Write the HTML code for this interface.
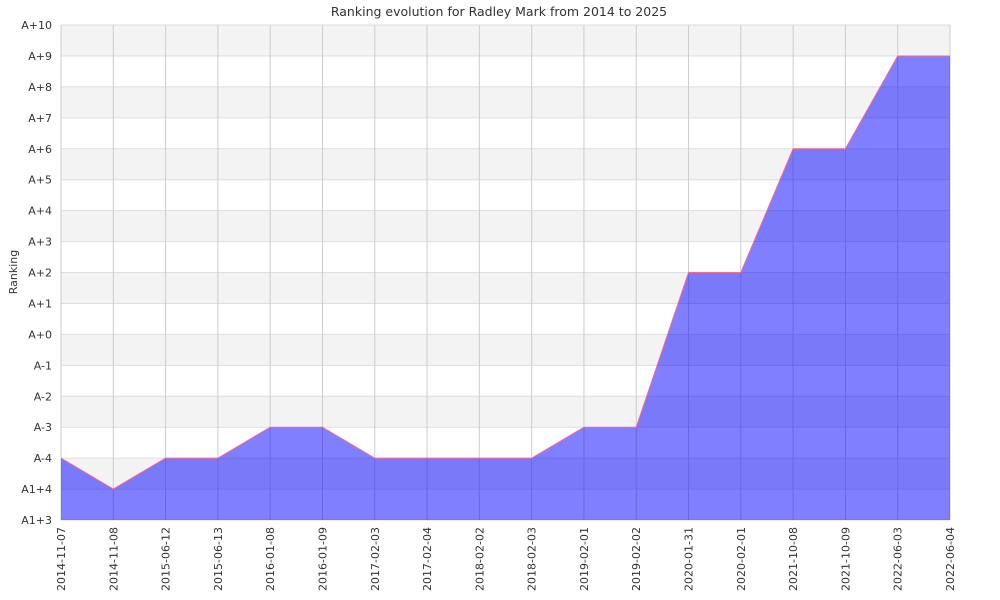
<!DOCTYPE html>
<html><head><meta charset="utf-8"><style>body{margin:0;background:#fff}svg{display:block;font-family:"DejaVu Sans","Liberation Sans",sans-serif}</style></head>
<body>
<svg width="1000" height="600" xmlns="http://www.w3.org/2000/svg">
<text x="499" y="16" text-anchor="middle" font-size="12.5" fill="#333">Ranking evolution for Radley Mark from 2014 to 2025</text>
<text transform="translate(17,272) rotate(-90)" text-anchor="middle" font-size="11" fill="#333">Ranking</text>
<g id="bands"></g>
<g id="grid"></g>
<g id="area"></g>
<g id="labels" font-size="11" fill="#333"></g>
</svg>
<script>
var ns="http://www.w3.org/2000/svg";
function el(p,t,a,txt){var e=document.createElementNS(ns,t);for(var k in a)e.setAttribute(k,a[k]);if(txt!=null)e.textContent=txt;document.getElementById(p).appendChild(e);return e;}
var L=61,R=950,T=25,B=520,rh=(B-T)/16,cw=(R-L)/17;
var yl=["A1+3","A1+4","A-4","A-3","A-2","A-1","A+0","A+1","A+2","A+3","A+4","A+5","A+6","A+7","A+8","A+9","A+10"];
for(var i=0;i<16;i++){el("bands","rect",{x:L,y:T+i*rh,width:R-L,height:rh,fill:i%2==0?"#f3f3f3":"#fff"});}
for(var i=0;i<=16;i++){var y=T+i*rh;el("grid","line",{x1:L,x2:R,y1:y,y2:y,stroke:"#ddd","stroke-width":1});
el("labels","text",{x:52,y:y+4,"text-anchor":"end"},yl[16-i]);}
var xl=["2014-11-07","2014-11-08","2015-06-12","2015-06-13","2016-01-08","2016-01-09","2017-02-03","2017-02-04","2018-02-02","2018-02-03","2019-02-01","2019-02-02","2020-01-31","2020-02-01","2021-10-08","2021-10-09","2022-06-03","2022-06-04"];
for(var i=0;i<18;i++){var x=L+i*cw;el("grid","line",{x1:x,x2:x,y1:T,y2:B,stroke:"#ccc","stroke-width":1});
el("labels","text",{transform:"translate("+(x+4)+",527) rotate(-90)","text-anchor":"end"},xl[i]);}
var d=[2,1,2,2,3,3,2,2,2,2,3,3,8,8,12,12,15,15];
var pts=d.map(function(v,i){return (L+i*cw)+","+(B-v*rh)});
el("area","polygon",{points:L+","+B+" "+pts.join(" ")+" "+R+","+B,fill:"rgba(0,0,255,0.5)"});
el("area","polyline",{points:pts.join(" "),fill:"none",stroke:"#ff6688","stroke-width":1});
</script>
</body></html>
